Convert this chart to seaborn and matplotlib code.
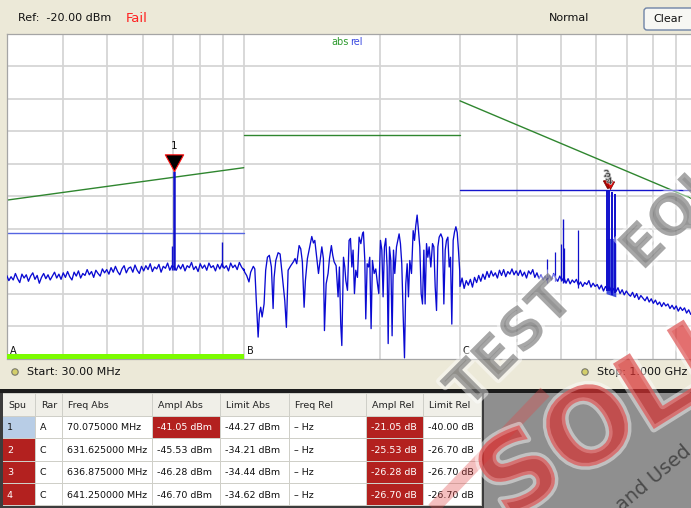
import numpy as np
import pandas as pd
import seaborn as sns
import matplotlib.pyplot as plt
from matplotlib.patches import Rectangle, Circle, FancyBboxPatch
import matplotlib.patheffects as pe
from matplotlib.ticker import NullFormatter

sns.set_theme(style="white")
plt.rcParams['font.family'] = ['DejaVu Sans']

# ---------------- data ----------------
ref_level = -20.0          # dBm, top of screen
db_per_div = 5

range_names = ['A', 'B', 'C']
range_start = [30, 100, 300]      # MHz
range_stop = [100, 300, 1000]
abs_limit_start = [-45.6, -35.6, -30.3]   # dBm (green)
abs_limit_stop = [-40.6, -35.6, -45.7]
rel_limit = [-50.6, np.nan, -44.0]        # dBm (blue)
selected_range = 'A'

# range A sweep (30-100 MHz), dBm
trace_a = [-57.2, -58.0, -57.4, -57.9, -56.9, -57.7, -58.3, -57.0, -57.6, -57.1,
           -58.1, -57.3, -56.8, -57.8, -57.2, -58.4, -57.5, -56.9, -57.7, -57.1,
           -57.9, -57.3, -56.7, -57.6, -57.0, -57.8, -56.8, -57.5, -56.6, -57.4,
           -57.9, -56.7, -57.3, -56.5, -57.6, -56.9, -57.2, -56.3, -57.1, -56.6,
           -57.5, -56.4, -56.9, -57.3, -56.2, -56.8, -56.3, -57.0, -56.0, -56.7,
           -55.8, -56.6, -57.1, -56.2, -55.7, -56.8, -56.1, -55.9, -56.7, -55.6,
           -56.4, -56.9, -55.8, -56.5, -55.7, -56.3, -55.4, -56.6, -55.9, -56.2,
           -55.5, -56.7, -55.8, -56.1, -55.3, -56.4, -55.7, -55.9, -56.4, -55.6,
           -56.2, -55.5, -56.5, -55.7, -56.0, -55.2, -56.3, -55.8, -56.6, -55.4,
           -56.1, -55.6, -56.4, -55.3, -56.0, -55.7, -56.5, -55.5, -56.2, -55.4,
           -56.1, -55.7, -56.5, -55.3, -56.0, -55.6, -56.3, -55.2, -55.9, -56.4]

# range B (100-300 MHz), MHz / dBm
trace_b_freq = [100.0, 100.5, 101.5, 102.7, 103.6, 105.0, 105.8, 106.6, 107.6, 108.3,
                109.0, 109.8, 110.9, 111.8, 112.8, 113.9, 115.1, 116.1, 116.7, 117.7,
                119.1, 120.3, 121.5, 123.2, 124.2, 125.3, 127.0, 128.7, 129.8, 130.9,
                132.5, 133.6, 134.7, 135.9, 136.8, 138.2, 139.8, 141.3, 142.5, 143.5,
                144.9, 146.2, 147.4, 148.7, 149.9, 150.7, 152.0, 153.5, 154.6, 156.1,
                157.2, 158.3, 159.9, 161.5, 162.6, 163.7, 164.6, 166.0, 167.1,
                168.0, 169.4, 170.8, 172.0, 173.2, 174.3, 175.5, 176.7, 178.2, 179.7,
                181.3, 182.8, 183.7, 185.0, 185.9, 187.2, 188.5, 189.7, 191.0, 192.3,
                194.0, 195.6, 197.3, 198.6, 200.3, 201.7, 203.0, 204.4, 205.8, 207.2,
                208.3, 209.7, 211.1, 212.5, 214.0, 215.4, 217.3, 218.8, 220.2, 221.7,
                223.2, 224.8, 226.3, 227.8, 229.4, 230.9, 232.5, 234.5, 236.5, 238.1,
                239.7, 241.3, 243.0, 244.6, 246.3, 248.0, 249.7, 251.3, 253.1, 254.8,
                256.5, 258.7, 260.9, 262.7, 264.5, 266.3, 268.1, 269.9, 272.2, 274.5,
                276.4, 278.3, 280.1, 282.1, 284.0, 285.9, 287.8, 289.8, 291.8, 293.8,
                295.8, 297.8, 299.6]
trace_b = [-56.2, -56.7, -57.2, -58.2, -56.7, -55.8, -56.2, -61.1, -66.7, -63.1,
           -62.1, -63.6, -61.6, -56.4, -54.4, -54.1, -55.9, -62.3, -57.5, -54.9,
           -53.7, -53.9, -56.9, -61.1, -65.2, -56.4, -55.7, -55.1, -54.6, -55.4,
           -52.6, -53.1, -55.1, -62.1, -58.0, -54.6, -52.8, -51.2, -52.2, -51.8,
           -54.4, -56.9, -54.9, -52.8, -54.6, -65.7, -58.5, -56.9, -54.6, -52.6,
           -54.1, -55.1, -55.7, -60.5, -55.9, -64.7, -68.0, -54.4, -55.9,
           -58.0, -59.5, -51.8, -51.5, -55.9, -53.3, -60.0, -56.4, -57.5, -51.3,
           -52.3, -50.8, -50.5, -54.9, -63.9, -55.4, -55.9, -54.4, -65.4, -54.9,
           -56.9, -56.2, -58.5, -60.0, -51.8, -53.3, -60.5, -52.8, -51.5, -55.9,
           -67.7, -52.8, -54.9, -66.5, -53.3, -56.9, -52.8, -51.8, -50.8, -52.3,
           -55.4, -63.4, -69.9, -58.5, -55.4, -60.5, -54.9, -56.9, -50.3, -51.8,
           -49.5, -47.9, -50.3, -52.8, -60.0, -61.6, -53.3, -61.6, -52.3, -54.4,
           -52.8, -55.9, -52.3, -52.8, -59.0, -62.6, -52.8, -51.3, -50.8, -51.5,
           -61.6, -53.3, -51.8, -51.3, -55.9, -54.4, -64.7, -51.8, -50.5, -49.7,
           -50.6, -53.5, -56.5]

# range C sweep (300-1000 MHz), dBm
trace_c = [-58.9, -57.6, -59.2, -58.0, -58.7, -57.8, -59.0, -57.5, -58.3, -57.2,
           -58.1, -57.0, -57.8, -56.6, -57.5, -56.5, -57.3, -56.8, -57.6, -56.4,
           -57.2, -56.3, -57.4, -56.6, -57.0, -56.2, -57.1, -56.5, -57.2, -56.4,
           -57.3, -56.7, -57.6, -56.5, -57.0, -56.3, -57.5, -56.8, -57.7, -57.1,
           -57.9, -57.3, -58.0, -57.2, -57.9, -56.9, -57.6, -58.1, -57.3, -58.0,
           -57.5, -58.4, -57.7, -58.5, -57.9, -58.3, -57.8, -58.7, -58.2, -58.9,
           -58.3, -58.6, -58.0, -59.0, -58.4, -58.9, -58.6, -59.3, -58.7, -59.6,
           -58.9, -59.4, -59.0, -59.8, -59.2, -59.7, -59.1, -60.0, -59.4, -60.2,
           -59.6, -60.1, -60.4, -59.8, -60.6, -60.0, -60.9, -60.3, -60.7, -61.1,
           -60.5, -61.3, -60.8, -61.5, -61.0, -61.7, -61.3, -62.0, -61.4, -61.9,
           -61.6, -62.3, -61.8, -62.4, -61.9, -62.7, -62.1, -62.6, -62.2, -63.0,
           -62.5, -63.2, -62.8, -63.5, -63.0]

# discrete spurs above the noise floor
spur_freq = [69.3, 70.075, 89.6, 467, 487, 500, 505, 510, 547, 632, 641, 650, 659]
spur_level = [-52.7, -41.05, -52.1, -54.6, -53.6, -52.3, -48.5, -53.0, -50.2,
              -44.0, -44.0, -44.3, -44.6]
cluster_freq = [630, 662]
cluster_top = -51.5

# spur markers
marker_id = ['1', '2', '3', '4']
marker_freq = [70.075, 631.625, 636.875, 641.25]
marker_level = [-41.05, -43.7, -43.7, -43.9]

# spur table
tbl_range = ['A', 'C', 'C', 'C']
tbl_freq_abs = ['70.075000 MHz', '631.625000 MHz', '636.875000 MHz', '641.250000 MHz']
tbl_ampl_abs = [-41.05, -45.53, -46.28, -46.70]
tbl_limit_abs = [-44.27, -34.21, -34.44, -34.62]
tbl_ampl_rel = [-21.05, -25.53, -26.28, -26.70]
tbl_limit_rel = [-40.00, -26.70, -26.70, -26.70]
tbl_headers = ['Spu', 'Rar', 'Freq Abs', 'Ampl Abs', 'Limit Abs', 'Freq Rel',
               'Ampl Rel', 'Limit Rel']

# ---------------- figure ----------------
W, H = 691, 508
BEIGE = '#ECE9D8'
fig = plt.figure(figsize=(W / 100, H / 100), dpi=100, facecolor=BEIGE)


def frac(x0, y0, x1, y1):
    return [x0 / W, 1 - y1 / H, (x1 - x0) / W, (y1 - y0) / H]


bg = fig.add_axes([0, 0, 1, 1])
bg.set_xlim(0, W)
bg.set_ylim(H, 0)
bg.axis('off')

# top bar
bg.text(18, 18, 'Ref:  %.2f dBm' % ref_level, fontsize=8, va='center', color='#111111')
bg.text(126, 19, 'Fail', fontsize=9.5, va='center', color='#ff2020')
bg.text(549, 18, 'Normal', fontsize=8, va='center', color='#111111')
bg.add_patch(FancyBboxPatch((644, 8), 50, 22, boxstyle='round,pad=0,rounding_size=3',
                            fc='#F7F7F3', ec='#6F84A6', lw=1))
bg.text(668, 19, 'Clear', fontsize=8, va='center', ha='center', color='#111111')

# status bar
for cx, label in [(15, 'Start: %.2f MHz' % range_start[0]),
                  (585, 'Stop: %.3f GHz' % (range_stop[-1] / 1000))]:
    bg.add_patch(Circle((cx, 372), 3.2, fc='#d4cf6a', ec='#77776a', lw=0.8))
    bg.text(cx + 12, 372, label, fontsize=8, va='center', color='#111111')

# table area
bg.add_patch(Rectangle((0, 389), W, 4, fc='#1c1c1c', lw=0))
bg.add_patch(Rectangle((0, 393), W, H - 393, fc='#8f8f8f', lw=0))
bg.add_patch(Rectangle((0, 393), 484, H - 393, fc='#3c3c3c', lw=0))
bg.add_patch(Rectangle((3, 393), 479, 113, fc='#cfcfc8', lw=0))

col_edges = [3, 36, 62.7, 152.7, 220.7, 290, 366.7, 424, 481.7]
row_tops = [393.5, 416.5, 439, 461.5, 484, 506]
RED = '#B3211F'
for j, head in enumerate(tbl_headers):
    x0, x1 = col_edges[j], col_edges[j + 1]
    bg.add_patch(Rectangle((x0 + 0.5, row_tops[0]), x1 - x0 - 1,
                           row_tops[1] - row_tops[0] - 1, fc='#F0EFE8', lw=0))
    bg.text(x0 + 5, (row_tops[0] + row_tops[1]) / 2, head, fontsize=6.8,
            va='center', color='#222222')

for i in range(len(marker_id)):
    abs_fail = tbl_ampl_abs[i] > tbl_limit_abs[i]
    rel_fail = tbl_ampl_rel[i] >= tbl_limit_rel[i]
    any_fail = abs_fail or rel_fail
    values = [marker_id[i], tbl_range[i], tbl_freq_abs[i],
              '%.2f dBm' % tbl_ampl_abs[i], '%.2f dBm' % tbl_limit_abs[i], '\u2013 Hz',
              '%.2f dB' % tbl_ampl_rel[i], '%.2f dB' % tbl_limit_rel[i]]
    fills = ['#B8CDE6' if i == 0 else (RED if any_fail else 'white'), 'white', 'white',
             RED if abs_fail else 'white', 'white', 'white',
             RED if rel_fail else 'white', 'white']
    y0, y1 = row_tops[i + 1], row_tops[i + 2]
    for j, (val, fc) in enumerate(zip(values, fills)):
        x0, x1 = col_edges[j], col_edges[j + 1]
        bg.add_patch(Rectangle((x0 + 0.5, y0), x1 - x0 - 1, y1 - y0 - 1, fc=fc, lw=0))
        tc = 'white' if fc == RED else '#111111'
        bg.text(x0 + 4, (y0 + y1) / 2, val, fontsize=6.8, va='center', color=tc)

# ---------------- spectrum plot ----------------
ax = fig.add_axes(frac(6.7, 34, 697, 358.5))
ax.set_facecolor('white')
ax.set_xscale('log')

a_freq = np.geomspace(range_start[0], range_stop[0], len(trace_a))
c_freq = np.geomspace(range_start[2], range_stop[2], len(trace_c))
trace = pd.DataFrame({'freq': np.concatenate([a_freq, trace_b_freq, c_freq]),
                      'level': np.concatenate([trace_a, trace_b, trace_c])})

# limit lines
for i, name in enumerate(range_names):
    lim = pd.DataFrame({'freq': [range_start[i], range_stop[i]],
                        'level': [abs_limit_start[i], abs_limit_stop[i]]})
    sns.lineplot(data=lim, x='freq', y='level', color='#2f862f', lw=1.0, ax=ax)
    if not np.isnan(rel_limit[i]):
        rl = pd.DataFrame({'freq': [range_start[i], range_stop[i]],
                           'level': [rel_limit[i], rel_limit[i]]})
        sns.lineplot(data=rl, x='freq', y='level',
                     color='#5565e2' if i == 0 else '#1515cc', lw=1.0, ax=ax)

# sideband cluster and spurs
ax.fill_between(cluster_freq, [-60.0, -60.5], cluster_top, color='#2f3fd8', lw=0,
                alpha=0.9, zorder=2)
spur_base = np.interp(spur_freq, trace['freq'], trace['level']) - 0.5
ax.vlines(spur_freq, spur_base, spur_level, color='#1010cc',
          lw=[1.0, 1.8, 1.0, 0.9, 0.9, 0.9, 1.0, 0.9, 0.9, 1.4, 1.4, 1.4, 1.4], zorder=3)

sns.lineplot(data=trace, x='freq', y='level', sort=False, estimator=None,
             color='#0a0ad2', lw=0.95, ax=ax, zorder=3)

# selected range bar and range labels
sel = range_names.index(selected_range)
ax.axvspan(range_start[sel], range_stop[sel], ymin=0, ymax=4.5 / 324.5,
           color='#7CFC00', lw=0, zorder=4)
for i, name in enumerate(range_names):
    ax.annotate(name, xy=(range_start[i], 0), xycoords=('data', 'axes fraction'),
                xytext=(3, 7), textcoords='offset pixels', fontsize=7,
                va='center', ha='left', color='#111111', zorder=5)

# markers
tri = [(0, 0), (-0.55, 1), (0.55, 1), (0, 0)]
for k in range(len(marker_id)):
    if k == 0:
        ax.plot([marker_freq[k]], [marker_level[k]], marker=tri, ms=24, mfc='black',
                mec='#ff1010', mew=0.8, ls='none', zorder=6)
        ax.annotate(marker_id[k], (marker_freq[k], marker_level[k]), xytext=(0, 17.5),
                    textcoords='offset points', ha='center', va='center', fontsize=7.5,
                    color='#111111', zorder=6)
    else:
        ax.plot([marker_freq[k]], [marker_level[k]], marker=tri, ms=11, mfc='#e80c0c',
                mec='#7a0000', mew=0.5, ls='none', zorder=6)
        ax.annotate(marker_id[k], (marker_freq[k], marker_level[k]),
                    xytext=(0, 12 - 2.2 * k), textcoords='offset points', ha='center',
                    va='center', fontsize=6.5, color='#333333', zorder=6,
                    path_effects=[pe.withStroke(linewidth=1.2, foreground='#bbbbbb')])

ax.set_xlim(range_start[0], range_stop[-1])
ax.set_ylim(ref_level - 10 * db_per_div, ref_level)
ax.set_yticks(np.arange(ref_level - 9 * db_per_div, ref_level, db_per_div))
ax.xaxis.set_minor_formatter(NullFormatter())
ax.grid(True, which='both', color='#d5d5d5', lw=1.3, zorder=0)
ax.set_axisbelow(True)
ax.tick_params(which='both', length=0, labelbottom=False, labelleft=False)
ax.set_xlabel('')
ax.set_ylabel('')
for s in ax.spines.values():
    s.set_color('#a5a5a5')
    s.set_linewidth(0.9)

# ---------------- overlay: legend text and watermark ----------------
ov = fig.add_axes([0, 0, 1, 1])
ov.set_xlim(0, W)
ov.set_ylim(H, 0)
ov.axis('off')
ov.patch.set_alpha(0)
ov.text(331, 42, 'abs', fontsize=7, va='center', color='#2f9a2f')
ov.text(350, 42, 'rel', fontsize=7, va='center', color='#3a4ae0')

halo = [pe.withStroke(linewidth=5, foreground='white', alpha=0.45)]
ov.plot([430, 545], [512, 392], color='#e04848', lw=9, alpha=0.35,
        solid_capstyle='butt')
ov.text(468, 410, 'TEST', rotation=45, rotation_mode='anchor', ha='left',
        va='baseline', fontsize=40, fontweight='bold', color='#6a6a6a', alpha=0.45,
        path_effects=halo)
ov.text(642, 272, 'EQUIPMENT', rotation=45, rotation_mode='anchor', ha='left',
        va='baseline', fontsize=40, fontweight='bold', color='#6a6a6a', alpha=0.45,
        path_effects=halo)
ov.text(505, 522, 'SOLUTIONS', rotation=32, rotation_mode='anchor', ha='left',
        va='baseline', fontsize=76, fontweight='bold', color='#d83232', alpha=0.45,
        path_effects=halo)
ov.text(622, 512, 'and Used', rotation=40, rotation_mode='anchor', ha='left',
        va='baseline', fontsize=14, color='#333333', alpha=0.75)

fig.savefig('out.png', dpi=100, facecolor=BEIGE)
